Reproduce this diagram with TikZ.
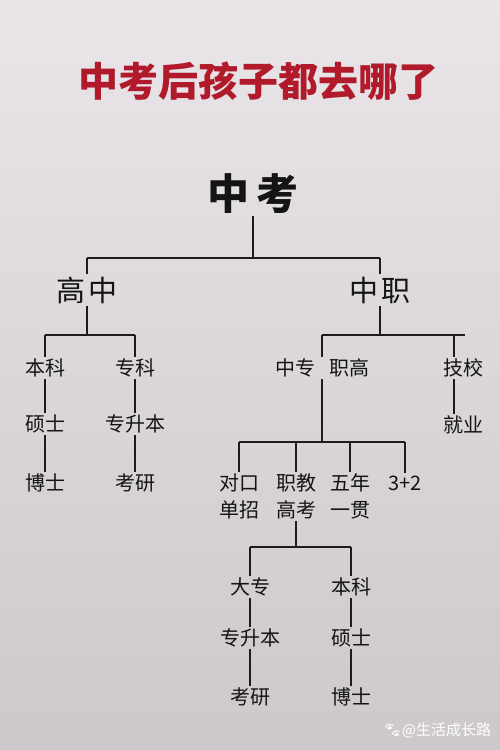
\documentclass[tikz,border=0pt]{standalone}
\usepackage{fontspec}
\newfontfamily\cjk{Noto Sans CJK SC}
\newfontfamily\emoji{Noto Emoji}
\usetikzlibrary{positioning}
\definecolor{titlered}{RGB}{176,26,42}
\definecolor{bgtop}{RGB}{233,229,233}
\definecolor{bgbottom}{RGB}{204,200,204}
\definecolor{linegray}{RGB}{28,28,28}

\begin{document}
\begin{tikzpicture}[x=1pt, y=-1pt]
  % Set the node styles
  \tikzset{
    item/.style={inner sep=2pt, align=center, text=black!92,
      font=\cjk\fontsize{20}{27}\selectfont},
    branch/.style={item, font=\cjk\fontsize{29}{34}\selectfont},
    link/.style={draw=linegray, line width=1.6pt}
  }

  % Background
  \shade[top color=bgtop, bottom color=bgbottom] (0,0) rectangle (500,750);
  \useasboundingbox (0,0) rectangle (500,750);

  % Title and root
  \node[text=titlered, font=\cjk\bfseries\fontsize{40}{42}\selectfont] (title) at (258,81) {中考后孩子都去哪了};
  \node[item, font=\cjk\bfseries\fontsize{42}{44}\selectfont] (zhongkao) at (253,194) {中\hspace{8pt}考};

  % Second level
  \node[branch] (gaozhong) at (87,290) {高\hspace{3pt}中};
  \node[branch] (zhongzhi) at (380,290) {中\hspace{3pt}职};

  % High school side
  \node[item] (benke) at (45,368) {本科};
  \node[item] (shuoshi) at (45,424) {硕士};
  \node[item] (boshi) at (45,483) {博士};
  \node[item] (zhuanke) at (135,368) {专科};
  \node[item] (zhuanshengben) at (135,424) {专升本};
  \node[item] (kaoyan) at (135,483) {考研};

  % Vocational side
  \node[item] (zhongzhuan) at (322,368) {中专\hspace{14pt}职高};
  \node[item] (jixiao) at (463,368) {技校};
  \node[item] (jiuye) at (463,425) {就业};
  \node[item] (duikou) at (239,496.5) {对口\\单招};
  \node[item] (zhijiao) at (296,496.5) {职教\\高考};
  \node[item] (wunian) at (350,496.5) {五年\\一贯};
  \node[item] (sanjia) at (405,483) {3+2};

  % After the college exam
  \node[item] (dazhuan) at (250,587) {大专};
  \node[item] (zhuanshengben2) at (250,638) {专升本};
  \node[item] (kaoyan2) at (250,697) {考研};
  \node[item] (benke2) at (351,587) {本科};
  \node[item] (shuoshi2) at (351,638) {硕士};
  \node[item] (boshi2) at (351,697) {博士};

  % Bracket heights
  \coordinate (top) at (0,258);
  \coordinate (mid) at (0,335);
  \coordinate (low) at (0,442);
  \coordinate (bottom) at (0,547);
  \coordinate (stub) at (465,335);

  % Draw the brackets
  \draw[link] (zhongkao) -- (zhongkao |- top);
  \draw[link] (gaozhong |- top) -- (zhongzhi |- top);
  \foreach \n in {gaozhong, zhongzhi}{
    \draw[link] (\n) -- (\n |- top);
    \draw[link] (\n) -- (\n |- mid);
  }
  \draw[link] (benke |- mid) -- (zhuanke |- mid);
  \draw[link] (zhongzhuan |- mid) -- (stub);
  \foreach \n in {benke, zhuanke, zhongzhuan}{
    \draw[link] (\n) -- (\n |- mid);
  }
  \draw[link] ([xshift=-9pt]jixiao.north) -- ([xshift=-9pt]jixiao.north |- mid);
  \draw[link] (zhongzhuan) -- (zhongzhuan |- low);
  \draw[link] (duikou |- low) -- (sanjia |- low);
  \foreach \n in {duikou, zhijiao, wunian, sanjia}{
    \draw[link] (\n) -- (\n |- low);
  }
  \draw[link] (zhijiao) -- (zhijiao |- bottom);
  \draw[link] (dazhuan |- bottom) -- (benke2 |- bottom);
  \foreach \n in {dazhuan, benke2}{
    \draw[link] (\n) -- (\n |- bottom);
  }

  % Draw the chains
  \draw[link] (benke) -- (shuoshi) -- (boshi);
  \draw[link] (zhuanke) -- (zhuanshengben) -- (kaoyan);
  \draw[link] ([xshift=-9pt]jixiao.south) -- ([xshift=-9pt]jiuye.north);
  \draw[link] (dazhuan) -- (zhuanshengben2) -- (kaoyan2);
  \draw[link] (benke2) -- (shuoshi2) -- (boshi2);

  % Watermark
  \node[text=white, font=\cjk\fontsize{15}{15}\selectfont] (mark) at (437,730) {{\emoji 🐾}@生活成长路};
\end{tikzpicture}
\end{document}
